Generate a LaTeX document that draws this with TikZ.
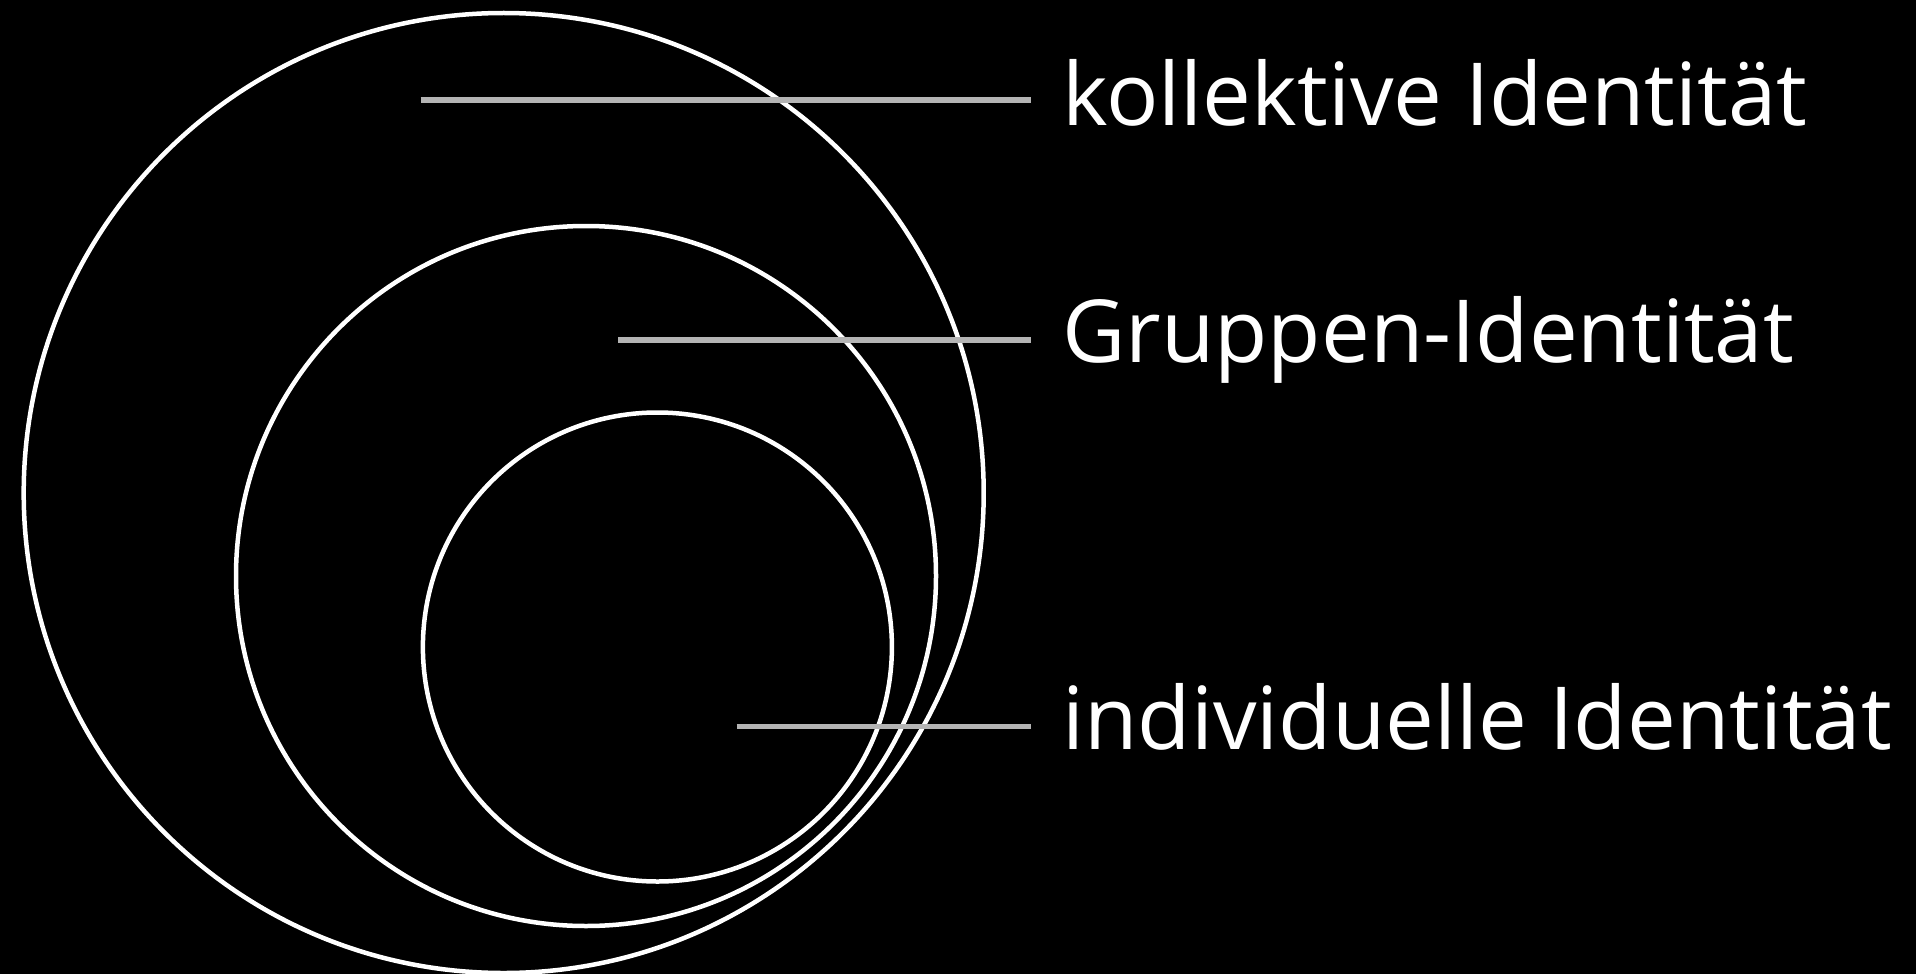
\documentclass[tikz,border=0pt]{standalone}
\usepackage{fontspec}
\setmainfont{Open Sans}
\definecolor{leadergray}{RGB}{180,180,180}
\begin{document}
\begin{tikzpicture}[x=0.5pt,y=-0.5pt,
  ring/.style={draw=white,line width=2.25pt},
  leader/.style={draw=leadergray,line width=2.6pt,shorten >=15.75pt},
  lbl/.style={text=white,inner sep=0pt,anchor=base west,font=\fontsize{43.5}{52}\selectfont}]
\fill[black] (0,0) rectangle (1916,974);
\useasboundingbox (0,0) rectangle (1916,974);
\draw[ring] (503.7,493) circle[radius=240pt];
\draw[ring] (586,576) circle[radius=175pt];
\draw[ring] (657.4,647) circle[radius=117.25pt];
\node[lbl] (t1) at (1062,125.8) {kollektive Identität};
\node[lbl] (t2) at (1062,362.5) {Gruppen-Identität};
\node[lbl] (t3) at (1062,749) {individuelle Identität};
\coordinate (s1) at (420.7,100);
\coordinate (s2) at (618.3,340);
\coordinate (s3) at (736.7,726.7);
\draw[leader] (s1) -- (s1 -| t1.west);
\draw[leader] (s2) -- (s2 -| t2.west);
\draw[leader] (s3) -- (s3 -| t3.west);
\end{tikzpicture}
\end{document}
